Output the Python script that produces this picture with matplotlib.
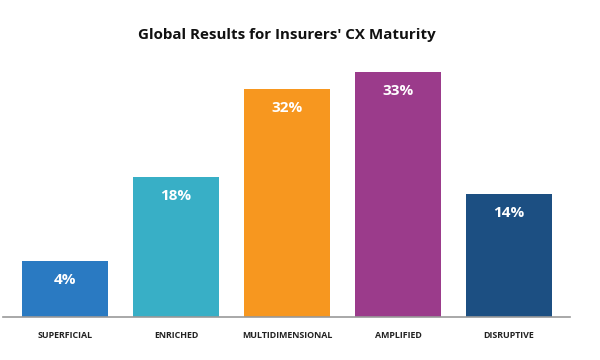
import matplotlib.pyplot as plt

categories = ['SUPERFICIAL', 'ENRICHED', 'MULTIDIMENSIONAL', 'AMPLIFIED', 'DISRUPTIVE']
shares = [4, 18, 32, 33, 14]
# drawn bar heights (the graphic is not to scale)
bar_heights = [56, 140, 228, 245, 123]
colors = ['#2a7ac2', '#38afc6', '#f7971f', '#9b3b8b', '#1c4f82']

plt.rcParams['font.family'] = ['Open Sans', 'DejaVu Sans']

fig = plt.figure(figsize=(6, 3.6), dpi=100)
ax = fig.add_axes([0.005, 0.1194, 0.945, 0.714])

x = range(len(categories))
bars = ax.bar(x, bar_heights, width=0.775, color=colors)

for b, s in zip(bars, shares):
    ax.annotate(f'{s}%', (b.get_x() + b.get_width() / 2, b.get_height()),
                xytext=(0, -19), textcoords='offset pixels',
                ha='center', va='center', color='white', fontsize=11, fontweight='bold')

ax.set_xlim(-0.559, 4.55)
ax.set_ylim(0, 257)
ax.set_xticks(list(x))
ax.set_xticklabels(categories, fontsize=6.4, fontweight='bold', color='#222222')
ax.tick_params(axis='x', length=0, pad=10)
ax.set_yticks([])
for s in ['top', 'right', 'left']:
    ax.spines[s].set_visible(False)
ax.spines['bottom'].set_color('#999999')
ax.spines['bottom'].set_linewidth(1.2)

fig.text(0.478, 0.903, "Global Results for Insurers' CX Maturity", ha='center', va='center',
         fontsize=10.9, fontweight='bold', color='#111111')

fig.savefig('out.png', dpi=100)
